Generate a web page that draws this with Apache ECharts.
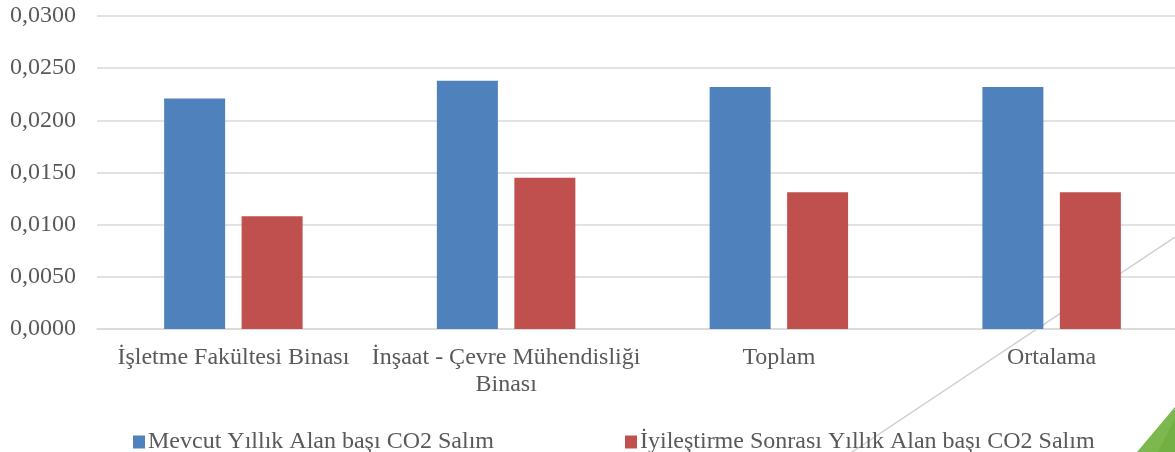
<!DOCTYPE html>
<html>
<head>
<meta charset="utf-8">
<script src="https://cdn.jsdelivr.net/npm/echarts@6/dist/echarts.min.js"></script>
<style>html,body{margin:0;padding:0;background:#fff;overflow:hidden;}#c{width:1175px;height:452px;}</style>
</head>
<body>
<div id="c"></div>
<script>
var categories = ['İşletme Fakültesi Binası', 'İnşaat - Çevre Mühendisliği\nBinası', 'Toplam', 'Ortalama'];
var seriesNames = ['Mevcut Yıllık Alan başı CO2 Salım', 'İyileştirme Sonrası Yıllık Alan başı CO2 Salım'];
var mevcut = [0.0221, 0.0238, 0.0232, 0.0232];
var iyilestirme = [0.0108, 0.0145, 0.0131, 0.0131];
var yMin = 0, yMax = 0.03, yStep = 0.005;

var font = "'Liberation Serif', 'Times New Roman', serif";
var chart = echarts.init(document.getElementById('c'), null, {renderer: 'canvas'});
chart.setOption({
  animation: false,
  backgroundColor: '#ffffff',
  textStyle: {fontFamily: font},
  graphic: [
    {type: 'line', z: -10, silent: true, shape: {x1: 1175, y1: 237, x2: 852, y2: 452}, style: {stroke: '#d0d0d0', lineWidth: 1.5}},
    {type: 'polygon', z: -10, silent: true, shape: {points: [[1175, 407], [1137, 452], [1175, 452]]}, style: {fill: '#7cb84e'}},
    {type: 'polygon', z: -9, silent: true, shape: {points: [[1175, 418], [1158, 452], [1175, 452]]}, style: {fill: '#72b043'}}
  ],
  grid: {left: 97, right: -13, top: 16, bottom: 123, containLabel: false, outerBoundsMode: 'none'},
  legend: {
    left: 128, top: 425,
    itemWidth: 12, itemHeight: 13, itemGap: 131,
    icon: 'rect',
    textStyle: {fontFamily: font, fontSize: 24, color: '#595959', padding: [0, 0, 0, -2]},
    data: seriesNames
  },
  xAxis: {
    type: 'category',
    data: categories,
    axisLine: {show: true, lineStyle: {color: '#d9d9d9', width: 1.5}},
    axisTick: {show: false},
    axisLabel: {
      fontFamily: font, fontSize: 24, color: '#595959', margin: 15,
      lineHeight: 27, interval: 0, hideOverlap: false
    }
  },
  yAxis: {
    type: 'value',
    min: yMin, max: yMax, interval: yStep,
    axisLine: {show: false},
    axisTick: {show: false},
    splitLine: {lineStyle: {color: '#d9d9d9', width: 1.5}},
    axisLabel: {
      fontFamily: font, fontSize: 24, color: '#595959', margin: 21,
      formatter: function (v) { return v.toFixed(4).replace('.', ','); }
    }
  },
  series: [
    {name: seriesNames[0], type: 'bar', data: mevcut, barWidth: 61, barGap: '27%', itemStyle: {color: '#4f81bd'}},
    {name: seriesNames[1], type: 'bar', data: iyilestirme, barWidth: 61, barGap: '27%', itemStyle: {color: '#c0504d'}}
  ]
});
</script>
</body>
</html>
